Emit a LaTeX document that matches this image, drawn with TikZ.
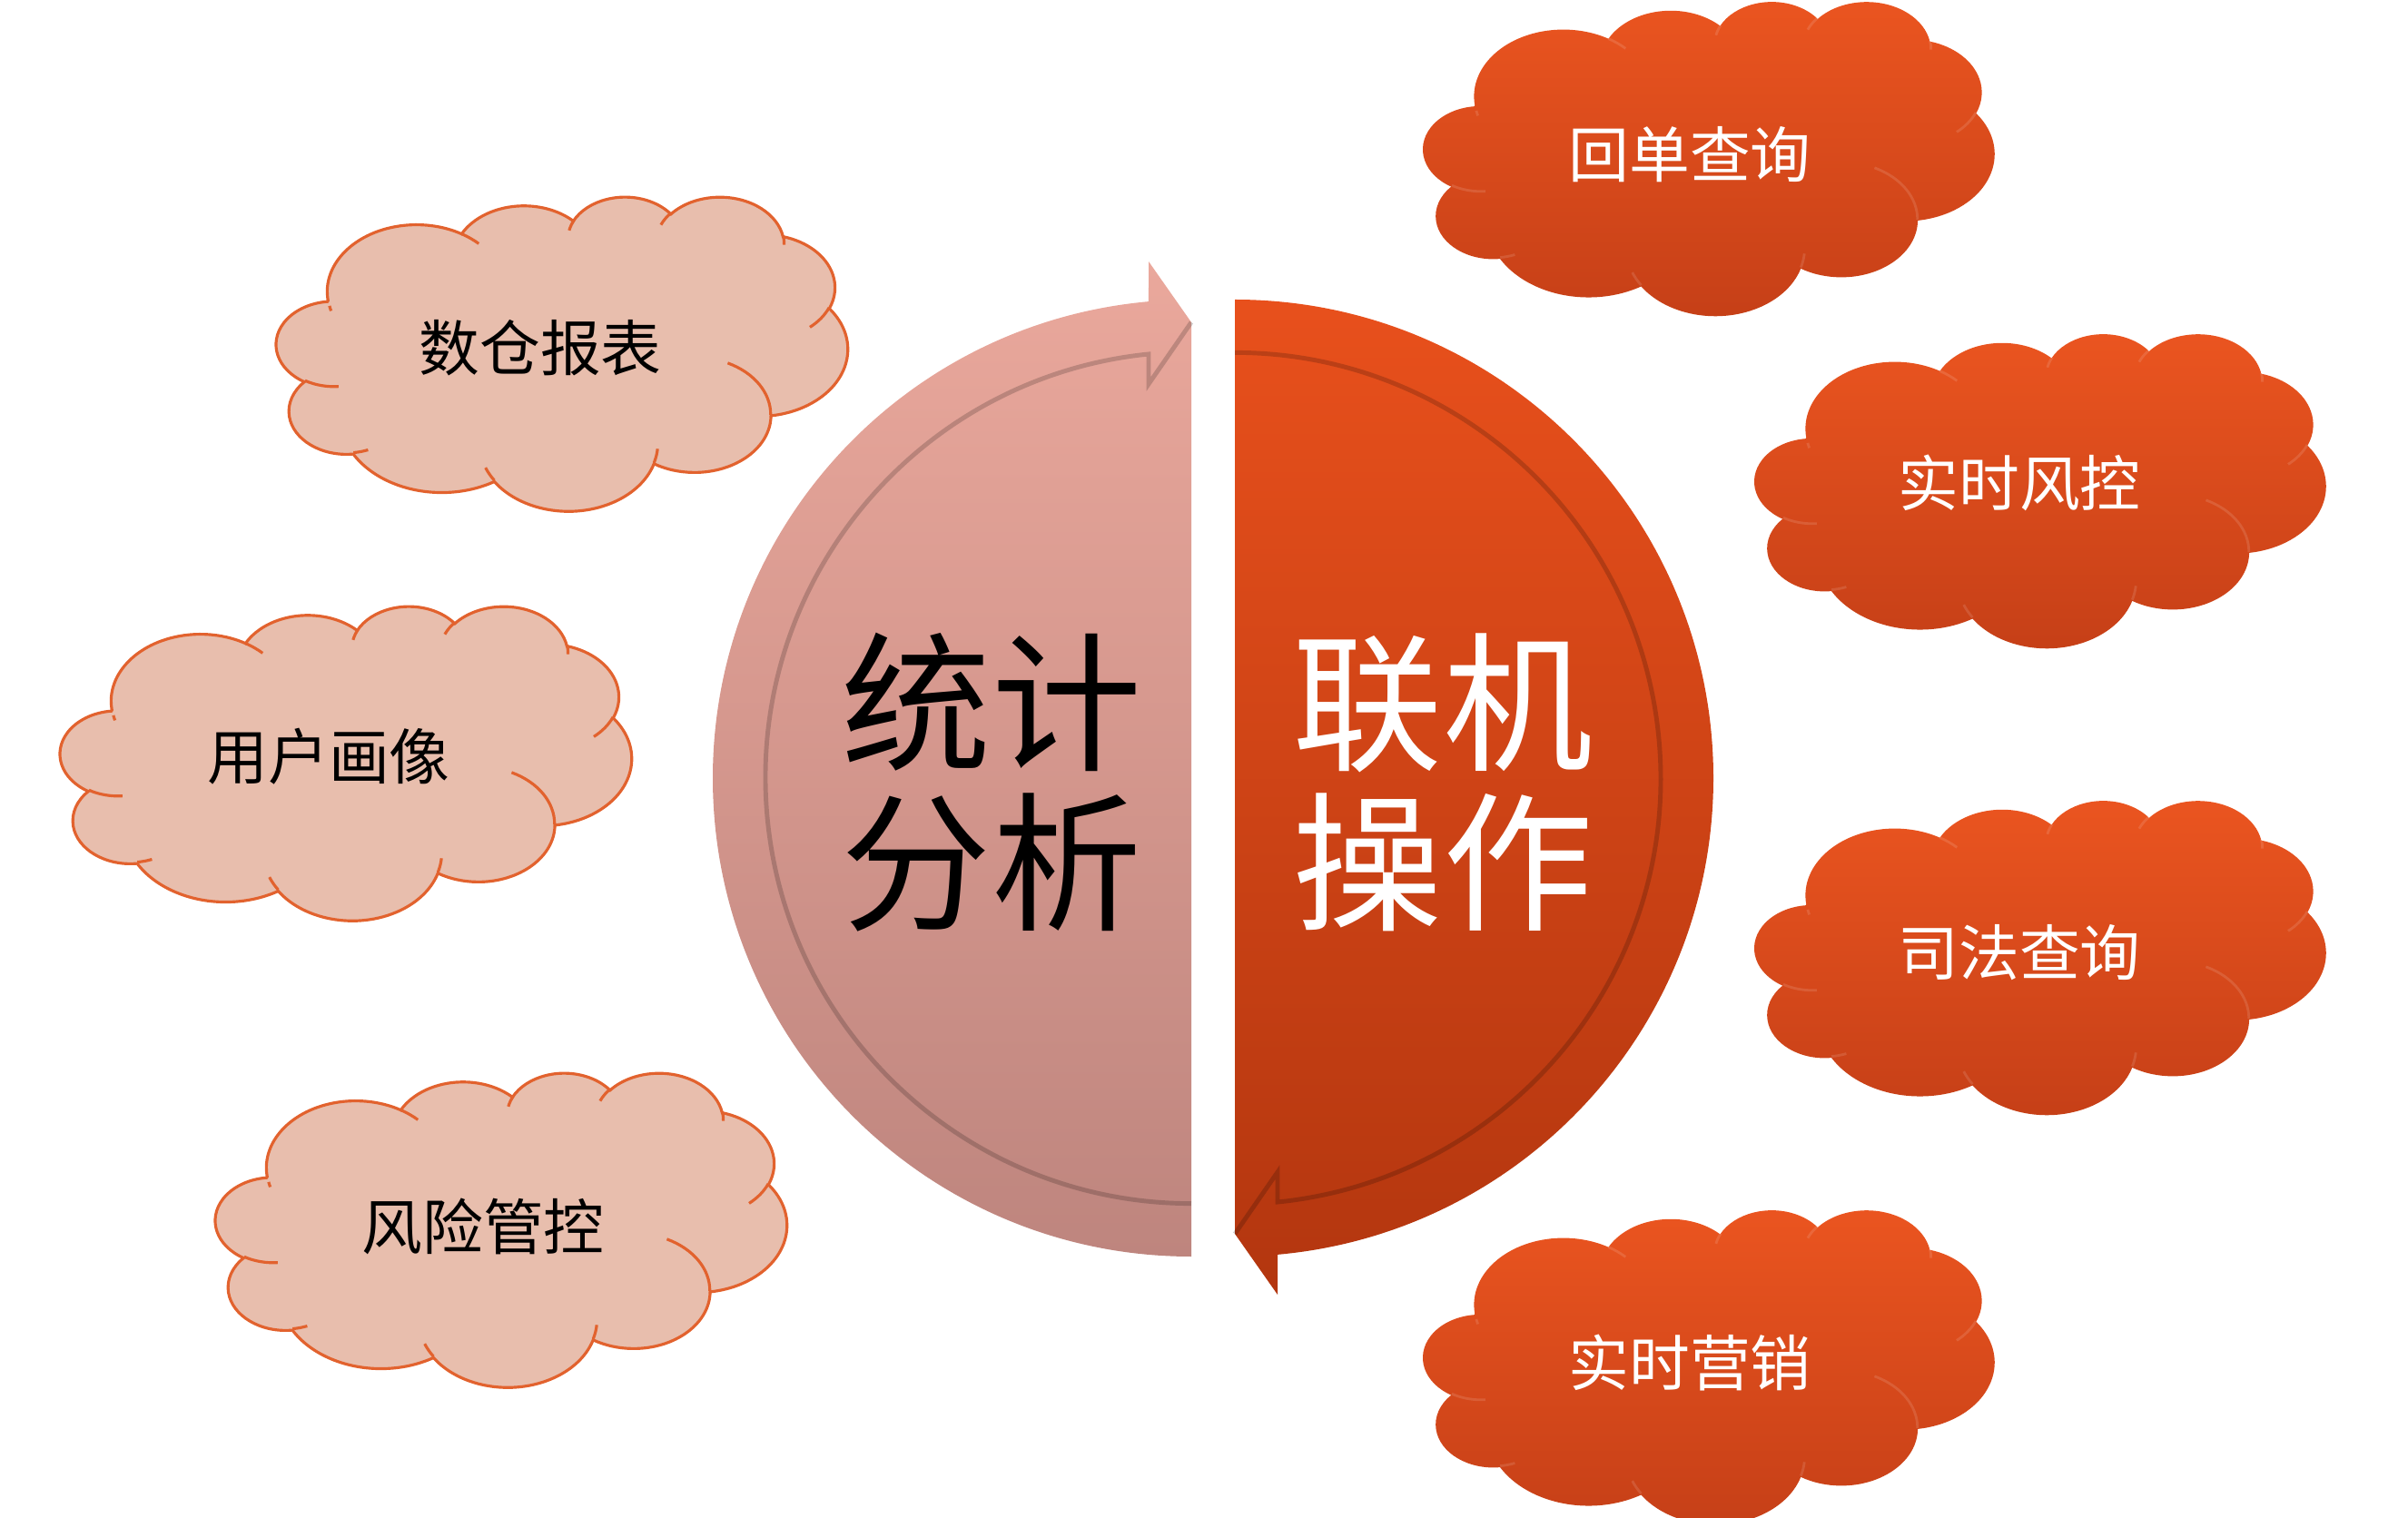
\documentclass[tikz,border=0pt]{standalone}
\usepackage{fontspec}
\setmainfont{Noto Sans CJK SC}
\usepackage{xcolor}
\usetikzlibrary{calc}

\definecolor{analyTop}{HTML}{EAA89C}
\definecolor{analyBot}{HTML}{BE857E}
\definecolor{onlineTop}{HTML}{E8501C}
\definecolor{onlineBot}{HTML}{B3360F}
\definecolor{cloudPink}{HTML}{E8BEAD}
\definecolor{cloudEdge}{HTML}{E2622E}
\definecolor{cloudTop}{HTML}{EB5520}
\definecolor{cloudBot}{HTML}{C53F17}

\begin{document}
\begin{tikzpicture}[
    softcloud/.style={fill=cloudPink, draw=cloudEdge, line width=0.9pt},
    softcloud line/.style={draw=cloudEdge, line width=0.9pt},
    hotcloud/.style={top color=cloudTop, bottom color=cloudBot},
    hotcloud line/.style={draw=white, draw opacity=0.12, line width=0.8pt},
    softtext/.style={text=black, font=\fontsize{19}{19}\selectfont},
    hottext/.style={text=white, font=\fontsize{19}{19}\selectfont},
    bigtext/.style={align=center, font=\fontsize{47}{50}\selectfont},
    bevel/.style={draw=black, draw opacity=0.18, line width=1.4pt},
    pics/pcloud/.style={code={
        \begin{scope}[shift={(-3.145,1.73)}, xscale=0.1456, yscale=-0.0801]
            \path[#1] (3.9,14.37)
                \foreach \rx/\ry/\sa/\sw [evaluate=\sa as \tst using {atan2(\rx*sin(\sa),\ry*cos(\sa))},
                    evaluate=\sa as \tdl using {Mod(atan2(\rx*sin(\sa+\sw),\ry*cos(\sa+\sw))-atan2(\rx*sin(\sa),\ry*cos(\sa)),360)}]
                in {6.753/9.190/-190.487/123.781, 5.333/7.267/-144.102/89.945,
                    4.365/5.945/-145.808/99.723, 4.857/6.595/-130.986/117.242,
                    5.333/7.273/-78.709/109.027, 6.775/9.220/-46.267/130.269,
                    5.785/7.867/0.625/114.033, 6.752/9.215/22.452/115.173,
                    7.720/10.543/66.243/75.711, 4.360/5.918/-274.942/146.736,
                    4.345/5.945/-246.829/152.519}
                { arc[x radius=\rx, y radius=\ry, start angle=\tst, delta angle=\tdl] } -- cycle;
            % inner curls
            \path[#1 line]
                \foreach \px/\py/\rx/\ry/\sa/\sw [evaluate=\sa as \tst using {atan2(\rx*sin(\sa),\ry*cos(\sa))},
                    evaluate=\sa as \tdl using {Mod(atan2(\rx*sin(\sa+\sw),\ry*cos(\sa+\sw))-atan2(\rx*sin(\sa),\ry*cos(\sa)),360)}]
                in {4.693/26.177/4.345/5.945/86.742/26.430, 6.928/34.899/4.360/5.918/73.610/11.447,
                    16.478/39.090/6.752/9.215/137.624/14.081, 28.827/34.751/6.752/9.215/6.453/15.998,
                    34.129/22.954/5.785/7.867/-70.292/70.917, 41.798/15.354/5.333/7.273/30.318/27.752,
                    38.324/5.426/4.857/6.595/-13.744/14.859, 29.078/3.952/4.857/6.595/-149.181/18.195,
                    22.141/4.720/4.365/5.945/-163.494/17.686, 14.000/5.192/6.753/9.190/-66.707/12.319,
                    4.127/15.789/6.753/9.190/159.131/5.783}
                { (\px,\py) arc[x radius=\rx, y radius=\ry, start angle=\tst, delta angle=\tdl] };
        \end{scope}
    }}
]
    \useasboundingbox (0,0) rectangle (26.52,-16.72);

    % left clouds
    \pic (shucangpic) at (6.19,-3.89) {pcloud=softcloud};
    \pic (huaxiangpic) at (3.81,-8.40) {pcloud=softcloud};
    \pic (fengkongpic) at (5.52,-13.54) {pcloud=softcloud};
    \node[softtext] (shucang) at (5.95,-3.83) {数仓报表};
    \node[softtext] (huaxiang) at (3.62,-8.33) {用户画像};
    \node[softtext] (fengkong) at (5.32,-13.51) {风险管控};

    % right clouds
    \pic (huidanpic) at (18.82,-1.74) {pcloud=hotcloud};
    \pic (shishipic) at (22.47,-5.40) {pcloud=hotcloud};
    \pic (sifapic) at (22.47,-10.54) {pcloud=hotcloud};
    \pic (yingxiaopic) at (18.82,-15.05) {pcloud=hotcloud};
    \node[hottext] (huidan) at (18.61,-1.70) {回单查询};
    \node[hottext] (shishi) at (22.24,-5.32) {实时风控};
    \node[hottext] (sifa) at (22.24,-10.49) {司法查询};
    \node[hottext] (yingxiao) at (18.61,-15.01) {实时营销};

    % left half with arrow
    \path[top color=analyTop, bottom color=analyBot]
        (13.12,-13.84) arc[start angle=270, end angle=95.12, radius=5.27]
        -- (12.65,-2.88) -- (13.12,-3.55) -- cycle;
    \draw[bevel] (13.12,-3.55) -- (12.65,-4.23) -- (12.65,-3.90)
        arc[start angle=95.75, end angle=270, radius=4.69];

    % right half with arrow
    \path[top color=onlineTop, bottom color=onlineBot]
        (13.60,-3.30) arc[start angle=90, end angle=-84.88, radius=5.27]
        -- (14.07,-14.26) -- (13.60,-13.59) -- cycle;
    \draw[bevel] (13.60,-13.59) -- (14.07,-12.91) -- (14.07,-13.24)
        arc[start angle=-84.25, end angle=90, radius=4.69];

    \node[bigtext, text=black] (tongji) at (10.92,-8.62) {统计\\分析};
    \node[bigtext, text=white] (lianji) at (15.89,-8.62) {联机\\操作};
\end{tikzpicture}
\end{document}
